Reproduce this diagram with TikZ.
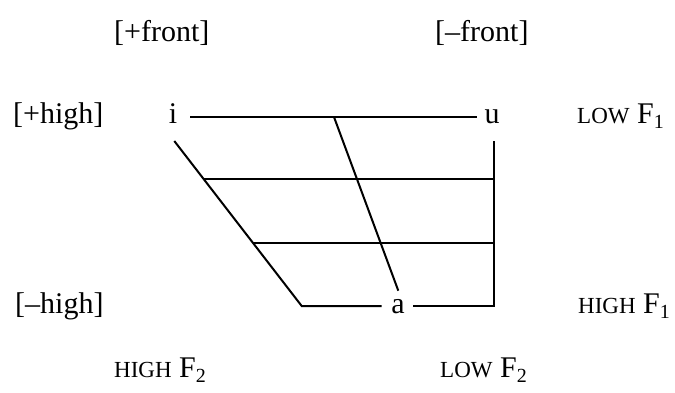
\documentclass[tikz,border=0pt]{standalone}
\usepackage{fontspec}
\setmainfont{Liberation Serif}
\newcommand{\fsc}[1]{{\fontsize{23}{23}\selectfont #1}}
\newcommand{\fsub}[1]{\raisebox{-5pt}{\fontsize{20}{20}\selectfont #1}}
\begin{document}
\begin{tikzpicture}[x=1pt,y=-1pt,
  lbl/.style={inner sep=0pt,anchor=base west,font=\fontsize{30}{36}\selectfont},
  vow/.style={inner sep=0pt,anchor=base,font=\fontsize{30}{36}\selectfont},
  edge/.style={line width=2pt,line cap=butt,line join=miter}]
\useasboundingbox (0,0) rectangle (675,392);
% labels
\node[lbl] (pf) at (114,41) {[+front]};
\node[lbl] (mf) at (435,41) {[–front]};
\node[lbl] (ph) at (13,123) {[+high]};
\node[lbl] (mh) at (15,313) {[–high]};
\node[lbl] (lf1) at (577,123) {\fsc{LOW} F\fsub{1}};
\node[lbl] (hf1) at (578,313) {\fsc{HIGH} F\fsub{1}};
\node[lbl] (hf2) at (114,377) {\fsc{HIGH} F\fsub{2}};
\node[lbl] (lf2) at (440,377) {\fsc{LOW} F\fsub{2}};
% vowels
\node[vow] (i) at (173,123) {i};
\node[vow] (u) at (492,123) {u};
\node[vow] (a) at (398,313) {a};
% coordinates
\coordinate (t1) at (190,117);
\coordinate (t2) at (477,117);
\coordinate (tm) at (334,117);
\coordinate (am) at (398.3,290.7);
\coordinate (s1) at (174.3,141);
\coordinate (s2) at (301.7,306);
\coordinate (b1) at (381.7,306);
\coordinate (b2) at (413.3,306);
\coordinate (r1) at (494,306);
\coordinate (r2) at (494,141);
\coordinate (h1a) at (203.9,179);
\coordinate (h1b) at (494,179);
\coordinate (h2a) at (252.5,243);
\coordinate (h2b) at (494,243);
% lines
\draw[edge] (t1) -- (t2);
\draw[edge] (tm) -- (am);
\draw[edge] (s1) -- (s2) -- (b1);
\draw[edge] (b2) -- (r1) -- (r2);
\draw[edge] (h1a) -- (h1b);
\draw[edge] (h2a) -- (h2b);
\end{tikzpicture}
\end{document}
